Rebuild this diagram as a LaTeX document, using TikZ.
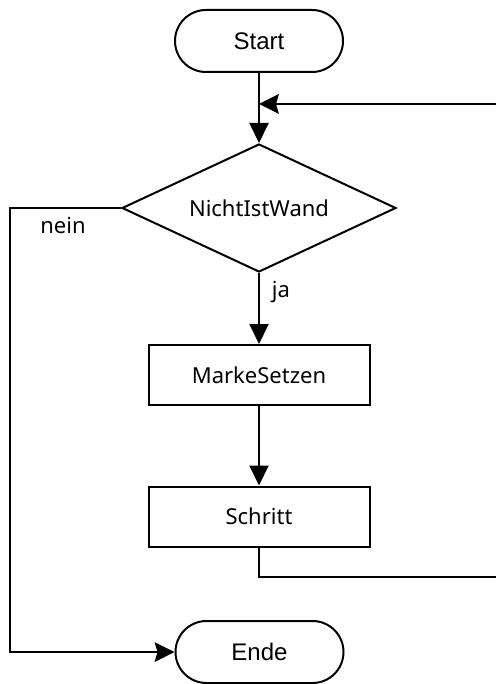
\documentclass[tikz,border=0pt]{standalone}
\usepackage{fontspec}
\setmainfont{Noto Sans}
\newfontfamily\termfont{Liberation Sans}
\usetikzlibrary{shapes.geometric,arrows.meta}

\begin{document}
\begin{tikzpicture}[x=1pt,y=-1pt,line width=2pt,
  labelfont/.style={font=\fontsize{22}{25}\selectfont},
  terminal/.style={draw,rounded corners=31pt,minimum width=168pt,minimum height=62pt,
    inner sep=0pt,font=\termfont\fontsize{24}{27}\selectfont},
  process/.style={draw,minimum width=221pt,minimum height=60pt,inner sep=0pt,labelfont},
  decision/.style={draw,diamond,aspect=2.14,minimum width=274pt,minimum height=128pt,
    inner sep=0pt,labelfont},
  flow/.style={-{Triangle[length=20pt,width=19pt]}},
  flowin/.style={-{Stealth[length=20pt,width=20pt,inset=3pt,line width=0pt]}}]
\useasboundingbox (0,0) rectangle (496,684);

% nodes of the flow chart
\node[terminal] (start) at (259,41) {Start};
\node[decision] (dec) at (259,208) {NichtIstWand};
\node[process] (marke) at (259,375) {MarkeSetzen};
\node[process] (schritt) at (259,516.5) {Schritt};
\node[terminal] (ende) at (259.5,652) {Ende};

% loop ends leaving the right edge
\coordinate (loopin) at (496,104);
\coordinate (loopout) at (496,577);

% connectors
\draw[flow] (start) -- (dec);
\draw[flowin] (loopin) -- (loopin -| start);
\draw[flowin] (dec.west) -- ++(-111,0) |- (ende.west);
\draw[flow] (dec) -- (marke);
\draw[flow] (marke) -- (schritt);
\draw (schritt.south) |- (loopout);

% branch labels
\node[labelfont] (nein) at (63,226) {nein};
\node[labelfont] (ja) at (281,292) {ja};
\end{tikzpicture}
\end{document}
